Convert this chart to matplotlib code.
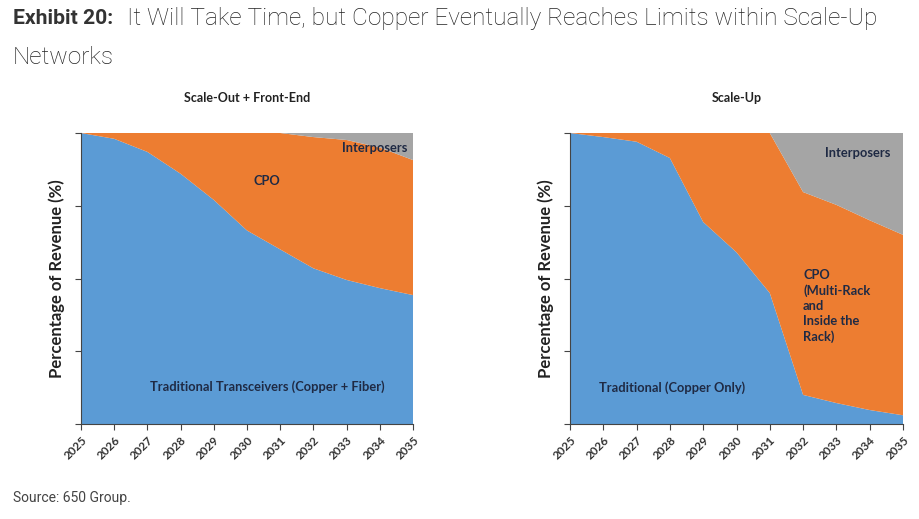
import matplotlib
matplotlib.use("Agg")
import matplotlib.pyplot as plt

# data (share of revenue, %)
years = [2025, 2026, 2027, 2028, 2029, 2030, 2031, 2032, 2033, 2034, 2035]

out_trad = [100, 98, 93.5, 86, 77, 66.5, 60, 53.5, 49.5, 46.7, 44.3]
out_interp = [0, 0, 0, 0, 0, 0, 0, 1.4, 2.4, 5, 9.3]
out_cpo = [100 - t - i for t, i in zip(out_trad, out_interp)]

up_trad = [100, 98.6, 97, 91.4, 69.4, 59, 45, 10, 7.2, 4.8, 3]
up_interp = [0, 0, 0, 0, 0, 0, 0, 20.3, 24.7, 30, 35]
up_cpo = [100 - t - i for t, i in zip(up_trad, up_interp)]

blue = "#5b9bd5"
orange = "#ed7d31"
grey = "#a5a5a5"
navy = "#1f2a44"
font = "Lato"
lab = 9.3

fig = plt.figure(figsize=(9.19, 5.19), dpi=100)

fig.text(13 / 919, 1 - 19 / 519, "Exhibit 20:", fontsize=15.2, fontweight="bold",
         family="Roboto", color="#333333", va="center")
fig.text(127 / 919, 1 - 19 / 519,
         "It Will Take Time, but Copper Eventually Reaches Limits within Scale-Up",
         fontsize=17.6, fontweight="light", family="Roboto", color="#222222", va="center")
fig.text(13 / 919, 1 - 57 / 519, "Networks", fontsize=17.6, fontweight="light",
         family="Roboto", color="#222222", va="center")
fig.text(13 / 919, 1 - 498 / 519, "Source: 650 Group.", fontsize=10,
         family="Roboto", color="#444444", va="center")


def setup(ax, title):
  ax.set_xlim(2025, 2035)
  ax.set_ylim(0, 100)
  ax.set_xticks(years)
  ax.set_xticklabels([str(y) for y in years], rotation=45, ha="right",
                     rotation_mode="anchor", fontsize=8.5, fontweight="bold",
                     family=font, color="#333333")
  ax.set_yticks([0, 25, 50, 75, 100])
  ax.set_yticklabels([])
  ax.tick_params(axis="both", direction="out", length=4, color="#444444")
  for s in ["top", "right"]:
    ax.spines[s].set_visible(False)
  for s in ["left", "bottom"]:
    ax.spines[s].set_color("#444444")
  ax.set_ylabel("Percentage of Revenue (%)", fontsize=12, fontweight="bold",
                family=font, color="#222222", labelpad=4)
  ax.set_title(title, fontsize=9, fontweight="bold", family=font,
               color="#222222", pad=22)


ax1 = fig.add_axes([81 / 919, 1 - 424 / 519, 332 / 919, 291 / 519])
ax1.stackplot(years, out_trad, out_cpo, out_interp,
              colors=[blue, orange, grey], linewidth=0)
setup(ax1, "Scale-Out + Front-End")
ax1.text(2033.85, 95, "Interposers", fontsize=lab, fontweight="bold", family=font,
         color=navy, ha="center", va="center")
ax1.text(2030.6, 83.5, "CPO", fontsize=lab, fontweight="bold", family=font,
         color=navy, ha="center", va="center")
ax1.text(2030.6, 12.7, "Traditional Transceivers (Copper + Fiber)", fontsize=lab,
         fontweight="bold", family=font, color=navy, ha="center", va="center")

ax2 = fig.add_axes([570 / 919, 1 - 424 / 519, 333 / 919, 291 / 519])
ax2.stackplot(years, up_trad, up_cpo, up_interp,
              colors=[blue, orange, grey], linewidth=0)
setup(ax2, "Scale-Up")
ax2.text(2033.65, 93, "Interposers", fontsize=lab, fontweight="bold", family=font,
         color=navy, ha="center", va="center")
ax2.text(2032.0, 40.5, "CPO\n(Multi-Rack\nand\nInside the\nRack)", fontsize=lab,
         fontweight="bold", family=font, color=navy, ha="left", va="center",
         linespacing=1.3)
ax2.text(2028.05, 12.4, "Traditional (Copper Only)", fontsize=lab,
         fontweight="bold", family=font, color=navy, ha="center", va="center")

fig.savefig("out.png", dpi=100)
